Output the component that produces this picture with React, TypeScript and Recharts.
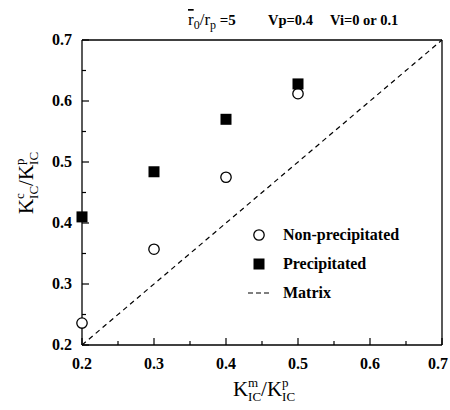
import { ScatterChart, Scatter, XAxis, YAxis, Legend, Label } from 'recharts';

// K_IC^m / K_IC^p  (x)
const categories = [0.2, 0.3, 0.4, 0.5];
// K_IC^c / K_IC^p  (y)
const nonPrecipitated = [0.236, 0.357, 0.475, 0.612];
const precipitated = [0.41, 0.484, 0.57, 0.628];
// matrix: y = x
const matrixX = [0.2, 0.7];
const matrixY = [0.2, 0.7];

const tickValues = [0.2, 0.25, 0.3, 0.35, 0.4, 0.45, 0.5, 0.55, 0.6, 0.65, 0.7];
const tickLabels = ['0.2', '0.3', '0.4', '0.5', '0.6', '0.7'];
const seriesNames = ['Non-precipitated', 'Precipitated', 'Matrix'];

const FONT = "'Liberation Serif', 'Times New Roman', serif";
const DOMAIN: [number, number] = [0.2, 0.7];

const nonData = categories.map((x, i) => ({ x, y: nonPrecipitated[i] }));
const precData = categories.map((x, i) => ({ x, y: precipitated[i] }));
const matrixData = matrixX.map((x, i) => ({ x, y: matrixY[i] }));

const isMajor = (v: number) => Math.round(v * 100) % 10 === 0;
const labelOf = (v: number) => tickLabels[Math.round(v * 10) - 2];

function BottomTick({ x, y, payload }: any) {
  const major = isMajor(payload.value);
  // keep the last label inside the picture
  const atEdge = x + 12 > 448;
  return (
    <g>
      <line x1={x} x2={x} y1={y} y2={y - (major ? 7 : 4)} stroke="#000" strokeWidth={1.2} />
      {major && (
        <text
          x={atEdge ? 448 : x}
          y={y + 24}
          textAnchor={atEdge ? 'end' : 'middle'}
          fontFamily={FONT}
          fontWeight="bold"
          fontSize={16}
          fill="#000"
        >
          {labelOf(payload.value)}
        </text>
      )}
    </g>
  );
}

function TopTick({ x, y, payload }: any) {
  const major = isMajor(payload.value);
  return <line x1={x} x2={x} y1={y} y2={y + (major ? 7 : 4)} stroke="#000" strokeWidth={1.2} />;
}

function LeftTick({ x, y, payload }: any) {
  const major = isMajor(payload.value);
  return (
    <g>
      <line x1={x} x2={x + (major ? 7 : 4)} y1={y} y2={y} stroke="#000" strokeWidth={1.2} />
      {major && (
        <text x={x - 10} y={y + 5} textAnchor="end" fontFamily={FONT} fontWeight="bold" fontSize={16} fill="#000">
          {labelOf(payload.value)}
        </text>
      )}
    </g>
  );
}

function RightTick({ x, y, payload }: any) {
  const major = isMajor(payload.value);
  return <line x1={x} x2={x - (major ? 7 : 4)} y1={y} y2={y} stroke="#000" strokeWidth={1.2} />;
}

const OpenCircle = (p: any) => (
  <circle cx={p.cx} cy={p.cy} r={5.2} fill="#fff" stroke="#000" strokeWidth={1.3} />
);
const FilledSquare = (p: any) => <rect x={p.cx - 5.5} y={p.cy - 5.5} width={11} height={11} fill="#000" />;

// K^sup_IC / K^p_IC, scripts stacked
function KRatio({ x, y, sup, rotate }: { x: number; y: number; sup: string; rotate?: boolean }) {
  const supW = sup === 'm' ? 10.1 : sup === 'p' ? 6.5 : 5.8;
  return (
    <text
      x={x}
      y={y}
      textAnchor="middle"
      fontFamily={FONT}
      fontSize={21}
      fill="#000"
      transform={rotate ? `rotate(-90 ${x} ${y})` : undefined}
    >
      <tspan>K</tspan>
      <tspan fontSize={13} dy={-9}>{sup}</tspan>
      <tspan fontSize={13} dx={-supW} dy={14}>IC</tspan>
      <tspan dy={-5}>/K</tspan>
      <tspan fontSize={13} dy={-9}>p</tspan>
      <tspan fontSize={13} dx={-6.5} dy={14}>IC</tspan>
    </text>
  );
}

function Title() {
  return (
    <g fontFamily={FONT} fill="#000">
      <text x={188} y={25} fontSize={17}>
        <tspan style={{ textDecoration: 'overline' }}>r</tspan>
        <tspan fontSize={12} dy={4}>0</tspan>
        <tspan dy={-4}>/r</tspan>
        <tspan fontSize={12} dy={4}>p</tspan>
        <tspan fontSize={15} fontWeight="bold" dy={-4}> =5</tspan>
      </text>
      <text x={268} y={25} fontSize={14.5} fontWeight="bold">Vp=0.4</text>
      <text x={330} y={25} fontSize={14.5} fontWeight="bold">Vi=0 or 0.1</text>
    </g>
  );
}

function renderLegend() {
  const icons = [
    <svg width={14} height={14} key="c"><circle cx={7} cy={7} r={5.2} fill="#fff" stroke="#000" strokeWidth={1.3} /></svg>,
    <svg width={14} height={14} key="s"><rect x={1.5} y={1.5} width={11} height={11} fill="#000" /></svg>,
    <svg width={22} height={4} key="d"><line x1={0} x2={22} y1={2} y2={2} stroke="#000" strokeWidth={1.2} strokeDasharray="5 3" /></svg>,
  ];
  return (
    <div style={{ fontFamily: FONT, fontWeight: 'bold', fontSize: 16, color: '#000' }}>
      {seriesNames.map((name, i) => (
        <div key={name} style={{ display: 'flex', alignItems: 'center', height: 29 }}>
          <div style={{ width: 26, display: 'flex', justifyContent: 'center' }}>{icons[i]}</div>
          <span style={{ marginLeft: 11 }}>{name}</span>
        </div>
      ))}
    </div>
  );
}

export default function App() {
  return (
    <div style={{ position: 'absolute', left: 0, top: 0, background: '#fff' }}>
      <ScatterChart width={450} height={410} margin={{ top: 39, right: 7, bottom: 64, left: 0 }}>
        <XAxis
          xAxisId="b"
          type="number"
          dataKey="x"
          domain={DOMAIN}
          ticks={tickValues}
          interval={0}
          height={1}
          tickSize={0}
          tickMargin={0}
          tickLine={false}
          axisLine={{ stroke: '#000', strokeWidth: 1.3 }}
          tick={(p: any) => <BottomTick {...p} />}
        >
          <Label content={() => <KRatio x={264} y={396} sup="m" />} />
        </XAxis>
        <XAxis
          xAxisId="t"
          orientation="top"
          type="number"
          dataKey="x"
          domain={DOMAIN}
          ticks={tickValues}
          interval={0}
          height={1}
          tickSize={0}
          tickMargin={0}
          tickLine={false}
          axisLine={{ stroke: '#000', strokeWidth: 1.3 }}
          tick={(p: any) => <TopTick {...p} />}
        >
          <Label content={() => <Title />} />
        </XAxis>
        <YAxis
          yAxisId="l"
          type="number"
          dataKey="y"
          domain={DOMAIN}
          ticks={tickValues}
          interval={0}
          width={82}
          tickSize={0}
          tickMargin={0}
          tickLine={false}
          axisLine={{ stroke: '#000', strokeWidth: 1.3 }}
          tick={(p: any) => <LeftTick {...p} />}
        >
          <Label content={() => <KRatio x={33} y={183} sup="c" rotate />} />
        </YAxis>
        <YAxis
          yAxisId="r"
          orientation="right"
          type="number"
          dataKey="y"
          domain={DOMAIN}
          ticks={tickValues}
          interval={0}
          width={1}
          tickSize={0}
          tickMargin={0}
          tickLine={false}
          axisLine={{ stroke: '#000', strokeWidth: 1.3 }}
          tick={(p: any) => <RightTick {...p} />}
        />
        <Scatter
          name={seriesNames[2]}
          data={matrixData}
          xAxisId="b"
          yAxisId="l"
          line={{ stroke: '#000', strokeWidth: 1.2, strokeDasharray: '5 4' }}
          lineType="joint"
          shape={() => <g />}
          isAnimationActive={false}
        />
        <Scatter
          name={seriesNames[0]}
          data={nonData}
          xAxisId="b"
          yAxisId="l"
          shape={OpenCircle}
          isAnimationActive={false}
        />
        <Scatter
          name={seriesNames[1]}
          data={precData}
          xAxisId="b"
          yAxisId="l"
          shape={FilledSquare}
          isAnimationActive={false}
        />
        <Legend
          layout="vertical"
          align="center"
          verticalAlign="middle"
          content={renderLegend}
          wrapperStyle={{ position: 'absolute', left: 246, top: 220, width: 'auto' }}
        />
      </ScatterChart>
    </div>
  );
}
